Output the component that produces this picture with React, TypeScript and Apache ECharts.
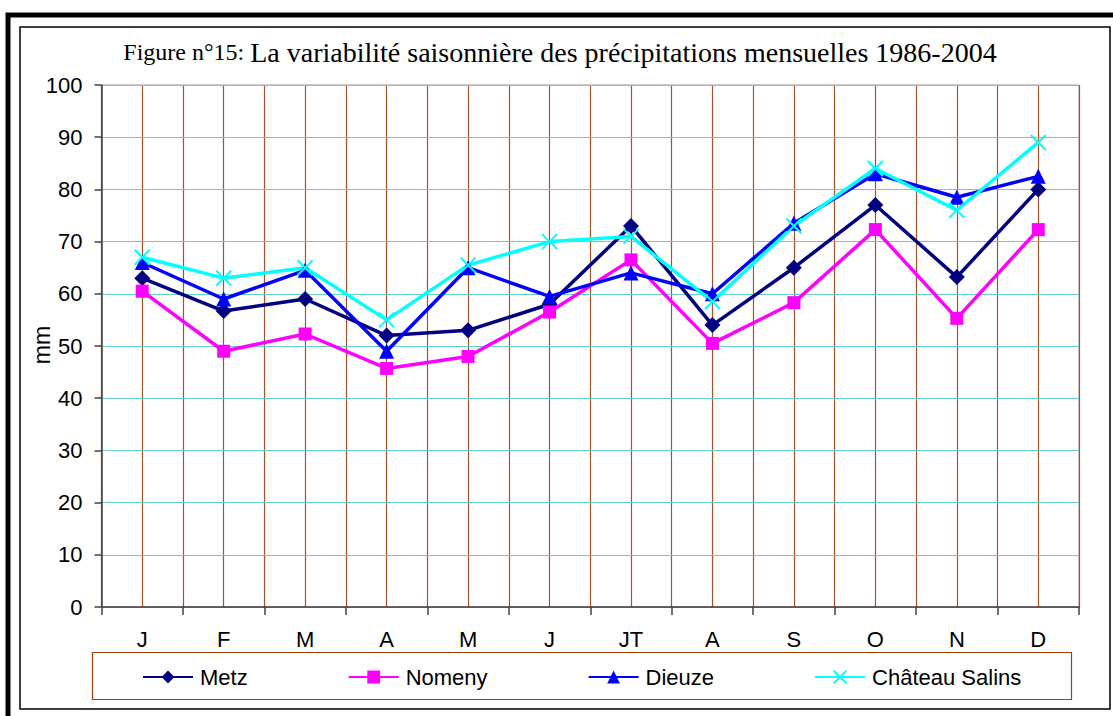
import React, { useEffect, useRef } from "react";
import * as echarts from "echarts";

const months = ["J", "F", "M", "A", "M", "J", "JT", "A", "S", "O", "N", "D"];
const metz = [63, 56.7, 59, 52, 53, 58, 73, 54, 65, 77, 63.2, 80];
const nomeny = [60.5, 49, 52.3, 45.7, 48, 56.5, 66.5, 50.5, 58.3, 72.3, 55.3, 72.3];
const dieuze = [66, 59, 64.5, 49, 65, 59.5, 64, 60, 73.5, 83, 78.5, 82.5];
const chateauSalins = [67, 63, 65, 55, 65.5, 70, 71, 58.5, 73, 84, 76, 89];
const yTicks = [0, 10, 20, 30, 40, 50, 60, 70, 80, 90, 100];

const crossPath = "path://M0,0L10,10M0,10L10,0";

export default function App() {
  const ref = useRef<HTMLDivElement>(null);
  useEffect(() => {
    if (!ref.current) return;
    const chart = echarts.init(ref.current, null, { renderer: "svg" });
    const mk = (name: string, data: number[], color: string, symbol: string, size: number) => ({
      name,
      type: "line",
      data,
      xAxisIndex: 0,
      yAxisIndex: 0,
      symbol,
      symbolSize: size,
      lineStyle: { color, width: 3.5 },
      itemStyle: symbol === crossPath
        ? { color: "none", borderColor: color, borderWidth: 2 }
        : { color, borderColor: color, borderWidth: 0 },
      emphasis: { disabled: true },
      z: 5,
    });
    chart.setOption({
      animation: false,
      backgroundColor: "#ffffff",
      title: {
        left: 555,
        top: 33,
        textAlign: "center",
        text: "{a|Figure n°15: }{b|La variabilité saisonnière des précipitations mensuelles 1986-2004}",
        textStyle: {
          fontWeight: "normal",
          rich: {
            a: { fontFamily: "Liberation Serif", fontSize: 24, fontWeight: "normal", color: "#000" },
            b: { fontFamily: "Liberation Serif", fontSize: 28, fontWeight: "normal", color: "#000" },
          },
        },
      },
      graphic: [
        { type: "rect", shape: { x: 8, y: 15, width: 1120, height: 720 }, style: { fill: "none", stroke: "#000", lineWidth: 5 }, silent: true },
        { type: "rect", shape: { x: 20, y: 27, width: 1090, height: 682 }, style: { fill: "none", stroke: "#000", lineWidth: 1.5 }, silent: true },
        { type: "rect", shape: { x: 92.5, y: 652.5, width: 979, height: 47 }, style: { fill: "none", stroke: "#a0400a", lineWidth: 1.2 }, silent: true },
        {
          type: "text", x: 42, y: 345, rotation: Math.PI / 2,
          style: { text: "mm", fontFamily: "Liberation Sans", fontSize: 23, fill: "#000", align: "center", verticalAlign: "middle" },
          silent: true,
        },
      ],
      legend: {
        left: 142,
        top: 666,
        padding: 0,
        itemGap: 100,
        itemWidth: 50,
        itemHeight: 16,
        textStyle: { fontFamily: "Liberation Sans", fontSize: 22, color: "#000", padding: [0, 0, 0, 2] },
        data: ["Metz", "Nomeny", "Dieuze", "Château Salins"],
      },
      grid: {
        left: 101.5,
        right: 1113 - 1079,
        top: 85,
        bottom: 716 - 607,
        show: true,
        borderColor: "#a0a0a0",
        borderWidth: 1,
        backgroundColor: "transparent",
      },
      xAxis: [
        {
          type: "category",
          data: months,
          boundaryGap: true,
          axisLine: { show: true, lineStyle: { color: "#404040", width: 1.5 } },
          axisTick: { show: true, length: 8, lineStyle: { color: "#404040", width: 1.5 } },
          axisLabel: { fontFamily: "Liberation Sans", fontSize: 22, color: "#000", margin: 21 },
          splitLine: { show: false },
          z: 3,
        },
        {
          type: "value",
          min: 0,
          max: 24,
          interval: 1,
          position: "bottom",
          axisLine: { show: false },
          axisTick: { show: false },
          axisLabel: { show: false },
          splitLine: { show: true, lineStyle: { color: "#a5522a", width: 1.2 } },
        },
      ],
      yAxis: {
        type: "value",
        min: 0,
        max: 100,
        interval: 10,
        axisLine: { show: true, lineStyle: { color: "#404040", width: 1.5 } },
        axisTick: { show: true, length: 7, lineStyle: { color: "#404040", width: 1.5 } },
        axisLabel: { fontFamily: "Liberation Sans", fontSize: 22, color: "#000", margin: 19, formatter: (v: number) => (yTicks.includes(v) ? String(v) : "") },
        splitLine: { show: true, lineStyle: { color: "#66cccc", width: 1.2 } },
        z: 3,
      },
      series: [
        mk("Metz", metz, "#000080", "diamond", 16),
        mk("Nomeny", nomeny, "#ff00ff", "rect", 13),
        mk("Dieuze", dieuze, "#0000ff", "triangle", 15),
        mk("Château Salins", chateauSalins, "#00ffff", crossPath, 15),
      ],
    });
    return () => chart.dispose();
  }, []);
  return <div ref={ref} style={{ position: "fixed", left: 0, top: 0, width: 1113, height: 716 }} />;
}
